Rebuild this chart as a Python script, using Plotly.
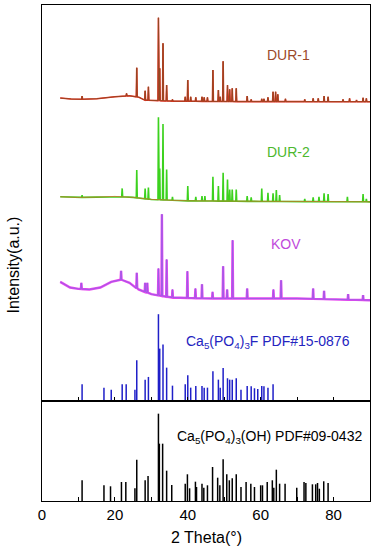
import numpy as np
import plotly.graph_objects as go
from plotly.subplots import make_subplots

# ---------------- data (2θ in degrees, intensity in stacked a.u.) ----------------
# DUR-1 background and peaks
dur1_bg_x = [5, 8, 11, 15, 20, 24, 26.6, 28, 35, 50, 90]
dur1_bg_y = [302.7, 301.7, 301.5, 302, 304, 305, 303.5, 300.7, 299.7, 299.2, 299]
dur1_pk_x = [11.0, 23.2, 26.0, 28.3, 29.2, 31.95, 32.3, 33.2, 34.2, 35.8, 39.3, 40.0, 40.8,
             42.2, 43.9, 44.5, 45.4, 46.9, 48.4, 48.9, 49.7, 50.9, 51.5, 52.2, 53.3, 56.3,
             57.4, 60.3, 60.9, 62.0, 63.4, 64.1, 64.7, 66.8, 72.1, 74.4, 75.8, 77.4, 78.5,
             82.6, 84.4, 86.3, 88.1, 89.0]
dur1_pk_y = [304.7, 307.4, 333, 310, 314, 383, 332.4, 357.4, 315.7, 301.4, 304, 320.7, 304,
             303.4, 304, 303.4, 303.4, 330.7, 310.7, 304, 339.4, 315.7, 311.4, 312.4, 312.4,
             304.7, 301.4, 302, 302, 303.4, 309, 309, 306.4, 302, 301.4, 302.4, 302.4, 304.7,
             304, 301.4, 302.4, 300.7, 303, 302.4]

# DUR-2 background and peaks
dur2_bg_x = [5, 10, 15, 20, 25, 30, 40, 60, 90]
dur2_bg_y = [204, 203.4, 203.7, 204.4, 203.4, 201.4, 200, 199.4, 199]
dur2_pk_x = [11.0, 22.0, 26.0, 28.3, 29.2, 31.95, 32.3, 33.2, 34.2, 35.8, 40.0, 42.2, 43.9,
             44.7, 46.9, 48.4, 49.7, 50.9, 51.5, 52.2, 53.3, 56.3, 57.4, 60.3, 62.0, 63.4,
             64.3, 65.2, 72.1, 74.4, 76.0, 77.4, 78.5, 83.8, 88.1, 89.0]
dur2_pk_y = [205.7, 212.4, 230.7, 212.4, 213.4, 283.4, 232.4, 276.7, 231.4, 204, 214.7, 204,
             204.7, 204.7, 224, 214.7, 228, 221.4, 211.4, 211.4, 211.4, 204.7, 203.4, 212.4,
             208, 207.4, 210.7, 205.7, 202, 203.4, 204, 207.4, 206.7, 204, 206.7, 202]

# KOV background and peaks
kov_bg_x = [5, 7.7, 10, 13, 16, 19, 21.5, 24, 26.5, 30, 35.5, 45, 70, 90]
kov_bg_y = [119, 113.4, 112, 111.4, 113.4, 119, 121.4, 118, 111.4, 106.7, 103.4, 102.4, 102.4, 100.7]
kov_pk_x = [10.8, 21.7, 26.0, 28.3, 28.9, 31.95, 32.9, 34.2, 35.8, 39.9, 42.1, 43.9, 46.8,
            49.7, 50.8, 52.3, 56.3, 63.5, 65.6, 74.4, 77.4, 84.0, 88.1]
kov_pk_y = [118, 130, 128, 118, 118, 132.4, 186.7, 141.4, 111.4, 129.7, 112.4, 116.7, 109,
            134.7, 111.4, 160.7, 112.4, 111.4, 120.7, 112.4, 110, 106.7, 105.7]

# Ca5(PO4)3F  PDF#15-0876 (stick heights)
fap_x = [11.0, 17.0, 19.0, 22.0, 23.1, 25.5, 26.0, 28.3, 29.2, 31.95, 32.3, 33.2, 34.2, 35.8,
         39.3, 40.0, 40.8, 42.2, 43.9, 44.5, 45.4, 46.9, 48.4, 48.9, 49.7, 50.9, 51.5, 52.2,
         53.3, 54.6, 56.3, 57.4, 58.3, 59.2, 60.3, 60.9, 62.0, 63.4]
fap_h = [16.7, 13.3, 11.3, 16.7, 16.7, 11.3, 40.7, 21.3, 24, 86.7, 52.3, 56.3, 33.3, 15.3,
         16.7, 25.7, 13.3, 15, 15, 13.3, 13.3, 29.7, 21.3, 13.3, 33, 22.7, 21.3, 21.3,
         22.7, 11.3, 15, 14.7, 12.7, 12, 15, 14.7, 13.3, 16.7]

# Ca5(PO4)3(OH)  PDF#09-0432 (stick heights)
hap_x = [11.0, 17.0, 18.8, 21.8, 23.0, 25.5, 26.0, 28.3, 29.1, 31.95, 32.2, 33.1, 34.2, 35.6,
         39.3, 39.9, 40.5, 42.1, 42.4, 43.9, 44.4, 45.4, 46.8, 48.2, 48.8, 49.7, 50.7, 51.4,
         52.2, 53.3, 54.6, 56.0, 57.3, 58.3, 60.0, 60.5, 61.8, 63.2, 63.6, 64.3, 65.2, 66.7,
         69.9, 71.9, 72.4, 74.2, 75.1, 75.6, 76.1, 77.3, 78.5]
hap_h = [20.7, 15.7, 14.7, 19, 19, 12.7, 41.3, 20.7, 25, 87.3, 57.3, 57.3, 30.3, 16,
         17.3, 26.7, 12.7, 19.3, 14, 17.3, 13.3, 15.7, 34, 23.3, 15.7, 41.7, 26.7, 20.7,
         22.7, 26.7, 14, 19, 17.3, 14, 15.7, 15.7, 19, 20.7, 13.3, 31.3, 17.3, 17.3,
         13.3, 19, 18, 16.7, 16.7, 18, 12.3, 19.7, 18]

x_tick_vals = [0, 20, 40, 60, 80]
x_tick_text = ["0", "20", "40", "60", "80"]


def pattern(bg_x, bg_y, pk_x, pk_y, hw=0.13):
    pk = np.array(pk_x)
    pts = [(x, y) for x, y in zip(bg_x, bg_y) if np.all(np.abs(pk - x) > hw * 1.5)]
    for p, top in zip(pk_x, pk_y):
        base = float(np.interp(p, bg_x, bg_y))
        pts += [(p - hw, base), (p, top), (p + hw, base)]
    pts.sort(key=lambda t: t[0])
    return [t[0] for t in pts], [t[1] for t in pts]


def sticks(xs, hs):
    X, Y = [], []
    for x, h in zip(xs, hs):
        X += [x, x, None]
        Y += [0, h, None]
    return X, Y


fig = make_subplots(rows=2, cols=1, shared_xaxes=True, vertical_spacing=0,
                    row_heights=[0.7983, 0.2017])

# DUR-1
x1, y1 = pattern(dur1_bg_x, dur1_bg_y, dur1_pk_x, dur1_pk_y)
fig.add_trace(go.Scatter(x=x1, y=y1, mode="lines", line=dict(color="#EE2A1E", width=1.6),
                         hoverinfo="skip", showlegend=False), row=1, col=1)
fig.add_trace(go.Scatter(x=x1, y=y1, mode="lines", line=dict(color="#8E4A22", width=0.9),
                         hoverinfo="skip", showlegend=False), row=1, col=1)
# DUR-2
x2, y2 = pattern(dur2_bg_x, dur2_bg_y, dur2_pk_x, dur2_pk_y)
fig.add_trace(go.Scatter(x=x2, y=y2, mode="lines", line=dict(color="#3CD21E", width=1.6),
                         hoverinfo="skip", showlegend=False), row=1, col=1)
fig.add_trace(go.Scatter(x=dur2_bg_x, y=dur2_bg_y, mode="lines",
                         line=dict(color="#C8742A", width=0.8),
                         hoverinfo="skip", showlegend=False), row=1, col=1)
# KOV
x3, y3 = pattern(kov_bg_x, kov_bg_y, kov_pk_x, kov_pk_y)
fig.add_trace(go.Scatter(x=x3, y=y3, mode="lines", line=dict(color="#E645EE", width=2.4),
                         hoverinfo="skip", showlegend=False), row=1, col=1)
fig.add_trace(go.Scatter(x=x3, y=y3, mode="lines", line=dict(color="#9A5CE6", width=0.9),
                         hoverinfo="skip", showlegend=False), row=1, col=1)
# PDF sticks
sx, sy = sticks(fap_x, fap_h)
fig.add_trace(go.Scatter(x=sx, y=sy, mode="lines", line=dict(color="#1F1FC8", width=1.5),
                         hoverinfo="skip", showlegend=False), row=1, col=1)
hx, hy = sticks(hap_x, hap_h)
fig.add_trace(go.Scatter(x=hx, y=hy, mode="lines", line=dict(color="#000000", width=1.5),
                         hoverinfo="skip", showlegend=False), row=2, col=1)

font = "Liberation Sans, Arial, sans-serif"
axis_common = dict(range=[0, 90], showgrid=False, zeroline=False, showline=True,
                   linecolor="black", linewidth=1, mirror=True,
                   ticks="inside", ticklen=4, tickcolor="black",
                   tickvals=x_tick_vals, ticktext=x_tick_text,
                   minor=dict(ticks="inside", ticklen=4, dtick=10, tick0=0, tickcolor="black"))
fig.update_xaxes(**axis_common, showticklabels=False, row=1, col=1)
fig.update_xaxes(**axis_common, showticklabels=True,
                 tickfont=dict(family=font, size=15, color="black"), row=2, col=1)
fig.update_yaxes(showgrid=False, zeroline=False, showticklabels=False, showline=True,
                 linecolor="black", linewidth=1, mirror=True, ticks="")
fig.update_yaxes(range=[0, 395.7], row=1, col=1)
fig.update_yaxes(range=[0, 100], row=2, col=1)

ann = [
    dict(x=67.5, y=345.7, xref="x", yref="y", text="DUR-1", font=dict(color="#9C4A2A", size=14, family=font)),
    dict(x=67.5, y=249, xref="x", yref="y", text="DUR-2", font=dict(color="#4DB82E", size=14, family=font)),
    dict(x=67.0, y=156.4, xref="x", yref="y", text="KOV", font=dict(color="#C04ADB", size=14, family=font)),
    dict(x=62.1, y=59, xref="x", yref="y",
         text="Ca<sub>5</sub>(PO<sub>4</sub>)<sub>3</sub>F PDF#15-0876",
         font=dict(color="#2424C0", size=14, family=font)),
    dict(x=62.4, y=64, xref="x2", yref="y2",
         text="Ca<sub>5</sub>(PO<sub>4</sub>)<sub>3</sub>(OH) PDF#09-0432",
         font=dict(color="black", size=14, family=font)),
]
for a in ann:
    fig.add_annotation(showarrow=False, xanchor="center", yanchor="middle", **a)

# axis titles
fig.add_annotation(x=0.5, y=-0.073, xref="paper", yref="paper", text="2 Theta(°)",
                   showarrow=False, xanchor="center", yanchor="middle",
                   font=dict(family=font, size=16, color="black"))
fig.add_annotation(x=-0.088, y=0.475, xref="paper", yref="paper", text="Intensity(a.u.)",
                   textangle=-90, showarrow=False, xanchor="center", yanchor="middle",
                   font=dict(family=font, size=16, color="black"))

fig.update_layout(width=376, height=550, margin=dict(l=42, r=6, t=5, b=49),
                  paper_bgcolor="white", plot_bgcolor="white", showlegend=False)
fig.write_html("out.html", config={"displayModeBar": False},
               post_script="document.body.style.margin='0';")
